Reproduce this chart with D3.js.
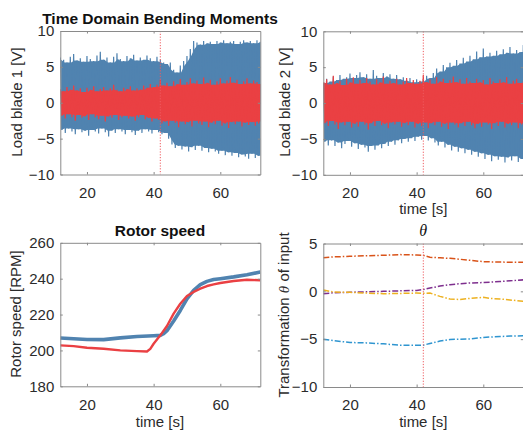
<!DOCTYPE html>
<html>
<head>
<meta charset="utf-8">
<script src="https://cdn.jsdelivr.net/npm/d3@7"></script>
<style>
  body { margin: 0; background: #fff; }
  svg { display: block; font-family: "Liberation Sans", Arial, sans-serif; }
  .tick text { fill: #2b2b2b; font-size: 15px; }
  .tick line, .domain { stroke: #8a8a8a; }
</style>
</head>
<body>
<svg id="chart" width="523" height="430"></svg>
<script>
// sample times for the bending-moment envelopes (1 s steps, lower peaks half a second later)
var loadTime = d3.range(12, 73);

// Load blade 1 : upper / lower peaks of the oscillation
var blade1BlueUp = [6.3,6.0,5.6,6.4,6.8,5.9,6.2,5.7,6.5,6.1,5.8,6.6,7.1,6.0,6.3,5.6,6.4,6.9,6.1,5.8,6.5,6.2,6.7,5.9,6.3,6.0,6.6,6.2,5.8,6.4,6.0,5.6,5.4,5.6,4.6,4.2,5.2,5.8,6.5,7.5,8.6,8.4,8.1,8.6,8.3,8.5,8.2,8.6,8.4,8.7,8.3,8.5,8.6,8.2,8.5,8.7,8.4,8.6,8.3,8.7,8.5];
var blade1BlueLo = [-3.8,-4.2,-3.6,-4.0,-4.4,-3.7,-4.1,-3.9,-4.6,-3.8,-4.0,-4.3,-3.6,-4.1,-4.7,-3.9,-4.2,-3.7,-4.0,-4.4,-3.8,-4.1,-4.5,-3.9,-4.2,-3.7,-4.0,-4.3,-3.8,-4.1,-4.4,-4.2,-5.0,-5.8,-6.3,-6.0,-6.5,-6.1,-6.8,-6.2,-6.6,-6.0,-6.7,-6.3,-6.9,-6.4,-6.8,-7.1,-6.7,-7.3,-6.9,-7.4,-7.0,-7.6,-7.2,-7.5,-7.8,-7.1,-7.7,-7.4,-7.9];
var blade1RedUp = [1.9,1.6,2.2,1.8,2.4,1.7,2.0,1.5,2.1,1.8,2.3,1.6,1.9,2.2,1.7,2.0,2.5,1.8,1.6,2.1,1.9,2.3,1.7,2.0,1.8,2.4,2.1,2.6,2.2,2.5,3.2,2.4,2.8,2.3,3.0,2.6,3.3,2.5,2.9,3.4,2.7,3.1,2.6,3.5,2.8,3.2,2.5,3.0,3.4,2.7,3.1,3.6,2.8,3.2,2.6,3.0,3.4,2.7,3.1,2.9,2.6];
var blade1RedLo = [-1.8,-2.2,-1.6,-2.0,-2.5,-1.7,-2.1,-1.9,-2.4,-1.6,-2.0,-2.3,-1.8,-2.6,-1.9,-2.1,-1.7,-2.4,-2.0,-1.8,-2.2,-1.9,-2.5,-2.0,-1.7,-2.3,-2.1,-2.6,-2.2,-2.4,-2.9,-2.6,-3.2,-2.5,-2.8,-3.4,-2.6,-3.0,-2.7,-3.3,-2.5,-2.9,-3.1,-2.6,-3.4,-2.8,-3.0,-2.5,-3.2,-2.9,-3.5,-2.7,-3.0,-2.6,-3.3,-2.8,-3.1,-2.7,-3.2,-2.9,-2.6];

// Load blade 2
var blade2BlueUp = [2.8,3.4,3.0,3.7,3.2,3.9,3.4,3.6,4.1,3.5,3.9,4.3,3.6,4.0,3.4,4.6,3.8,3.5,4.2,3.7,4.0,3.4,3.9,3.3,3.6,3.1,3.5,2.9,3.3,3.0,3.4,3.8,3.5,4.2,4.8,4.4,5.3,5.0,5.6,5.2,6.0,5.5,6.3,5.8,6.6,6.1,7.2,6.4,7.6,6.5,7.0,6.6,7.3,6.8,7.5,7.0,7.8,6.9,7.4,7.1,8.1];
var blade2BlueLo = [-5.4,-5.9,-5.2,-6.0,-5.5,-6.3,-5.7,-5.3,-6.1,-5.6,-6.4,-5.8,-6.2,-6.8,-6.0,-6.5,-5.9,-6.3,-5.7,-6.0,-5.4,-5.8,-5.2,-5.6,-5.0,-5.4,-4.9,-5.3,-4.7,-5.1,-4.6,-5.2,-4.9,-5.5,-5.9,-5.4,-6.2,-5.8,-6.6,-6.1,-6.8,-6.3,-7.0,-6.5,-7.2,-6.8,-7.5,-7.0,-7.8,-7.2,-8.1,-7.4,-7.9,-7.5,-8.3,-7.6,-8.0,-7.4,-8.2,-7.8,-8.8];
var blade2RedUp = [2.9,3.3,2.6,3.8,2.8,3.1,2.5,3.4,2.9,3.6,2.7,3.2,2.8,3.5,3.0,2.6,3.3,2.9,3.7,2.7,3.1,2.8,3.4,2.6,3.0,3.5,2.8,3.2,2.7,3.1,3.9,2.9,3.3,2.7,3.6,3.0,3.4,2.8,3.2,3.7,2.9,3.3,2.7,3.5,3.0,2.8,3.4,2.9,3.2,2.6,3.5,3.0,2.8,3.3,2.9,3.6,2.7,3.1,3.4,2.8,3.0];
var blade2RedLo = [-2.8,-3.2,-2.5,-3.0,-3.6,-2.7,-3.1,-2.6,-3.4,-2.9,-3.3,-2.6,-3.0,-3.7,-2.8,-3.2,-2.5,-3.1,-2.9,-3.5,-2.7,-3.0,-2.6,-3.3,-2.8,-3.1,-2.6,-3.4,-2.9,-3.2,-2.7,-3.5,-2.8,-3.1,-2.6,-3.3,-2.9,-3.6,-2.7,-3.0,-3.4,-2.8,-3.2,-2.6,-3.1,-3.5,-2.9,-3.3,-2.7,-3.0,-3.6,-2.8,-3.2,-2.6,-3.4,-2.9,-3.1,-2.7,-3.5,-3.0,-2.8];

// Rotor speed [RPM]
var rotorBlueT = [12,20,25,30,35,40,42,43,44,46,48,50,52,54,56,58,60,64,68,72];
var rotorBlue  = [206.9,206.1,206,207,207.8,208.2,208.4,209.3,211,216.4,222.3,228.8,233.5,236.7,238.5,239.5,240,241,242.2,243.7];
var rotorRedT  = [12,16,20,25,30,35,38,39,40,42,44,46,48,50,52,54,56,58,60,64,68,72];
var rotorRed   = [202.8,202.4,201.5,200.9,200,199.6,199.4,200.9,203.7,208.4,213.6,220.5,226,230.3,232.6,234.4,235.9,236.8,237.6,238.7,239.4,239.1];

// Transformation theta
var thetaT      = [12,15,20,25,30,35,40,42,44,47,50,53,56,60,62,65,68,72];
var thetaOrange = [3.52,3.6,3.66,3.72,3.77,3.84,3.8,3.77,3.56,3.5,3.45,3.35,3.24,3.1,3.08,3.06,3.04,3.03];
var thetaPurple = [-0.25,-0.15,-0.1,-0.05,0,0.05,0.1,0.18,0.34,0.55,0.7,0.8,0.87,0.92,0.96,1.02,1.1,1.2];
var thetaYellow = [0.14,-0.07,-0.1,-0.18,-0.25,-0.22,-0.18,-0.2,-0.18,-0.53,-0.8,-0.85,-0.74,-0.63,-0.74,-0.8,-0.9,-1.05];
var thetaBlue   = [-5.0,-5.15,-5.35,-5.39,-5.49,-5.63,-5.63,-5.63,-5.45,-5.2,-5.04,-5.0,-4.98,-4.82,-4.78,-4.72,-4.68,-4.65];

var changeTime = 42;
var xTicks = [20, 40, 60];
var loadTicks = [-10, -5, 0, 5, 10];
var rotorTicks = [180, 200, 220, 240, 260];
var thetaTicks = [-10, -5, 0, 5];

var blue = '#5083b0', red = '#ea4043';
var svg = d3.select('#chart');

function panel(id, left, top, yDomain, yTicks) {
	var w = 200, h = 143.5;
	var x = d3.scaleLinear().domain([12, 72]).range([0, w]);
	var y = d3.scaleLinear().domain(yDomain).range([h, 0]);
	var g = svg.append('g').attr('transform', 'translate(' + left + ',' + top + ')');
	g.append('clipPath').attr('id', id).append('rect').attr('width', w).attr('height', h);
	var plot = g.append('g').attr('clip-path', 'url(#' + id + ')');

	g.append('g').attr('transform', 'translate(0,' + h + ')')
		.call(d3.axisBottom(x).tickValues(xTicks).tickSizeInner(-2.5).tickSizeOuter(0).tickPadding(12.8));
	g.append('g')
		.call(d3.axisLeft(y).tickValues(yTicks).tickSizeInner(-2.5).tickSizeOuter(0).tickPadding(6));
	g.append('g')
		.call(d3.axisTop(x).tickValues(xTicks).tickSizeInner(-2.5).tickSizeOuter(0).tickFormat(''));
	g.append('g').attr('transform', 'translate(' + w + ',0)')
		.call(d3.axisRight(y).tickValues(yTicks).tickSizeInner(-2.5).tickSizeOuter(0).tickFormat(''));
	g.selectAll('.tick text').attr('font-family', null).attr('font-size', null);
	return {g: g, plot: plot, x: x, y: y, w: w, h: h};
}

// oscillating signal: solid core band under the lowest neighbouring peaks,
// and a zig-zag through every peak for the spiky fringe
function drawLoad(p, up, lo, color) {
	var n = up.length;
	var coreUp = up.map(function(d, i) { return Math.min(d, up[Math.max(i - 1, 0)], up[Math.min(i + 1, n - 1)]); });
	var coreLo = lo.map(function(d, i) { return Math.max(d, lo[Math.max(i - 1, 0)], lo[Math.min(i + 1, n - 1)]); });
	var area = d3.area()
		.x(function(d, i) { return p.x(loadTime[i] + 0.25); })
		.y1(function(d) { return p.y(d); })
		.y0(function(d, i) { return p.y(coreLo[i]); });
	p.plot.append('path').datum(coreUp).attr('d', area).attr('fill', color);
	var pts = [];
	loadTime.forEach(function(t, i) {
		pts.push([t, up[i]]);
		pts.push([t + 0.5, lo[i]]);
	});
	var line = d3.line().x(function(d) { return p.x(d[0]); }).y(function(d) { return p.y(d[1]); });
	p.plot.append('path').datum(pts).attr('d', line)
		.attr('fill', 'none').attr('stroke', color).attr('stroke-width', 1.2);
}

function marker(p) {
	p.plot.append('line')
		.attr('x1', p.x(changeTime)).attr('x2', p.x(changeTime))
		.attr('y1', 0).attr('y2', p.h)
		.attr('stroke', '#ee5a5f').attr('stroke-width', 1).attr('stroke-dasharray', '1.2,1.6');
}

function yLabel(x, y, text) {
	return svg.append('text').attr('transform', 'translate(' + x + ',' + y + ') rotate(-90)')
		.attr('text-anchor', 'middle').attr('font-size', 15).attr('fill', '#2b2b2b').text(text);
}
function label(x, y, text) {
	return svg.append('text').attr('x', x).attr('y', y)
		.attr('text-anchor', 'middle').attr('font-size', 15).attr('fill', '#2b2b2b').text(text);
}

// top left
var p1 = panel('c1', 60.3, 31, [-10, 10], loadTicks);
drawLoad(p1, blade1BlueUp, blade1BlueLo, blue);
drawLoad(p1, blade1RedUp, blade1RedLo, red);
marker(p1);
label(160, 23.5, 'Time Domain Bending Moments').attr('font-weight', 'bold').attr('font-size', 15.5).attr('fill', '#111');
yLabel(21.5, 102, 'Load blade 1 [V]');

// top right
var p2 = panel('c2', 323.3, 31.3, [-10, 10], loadTicks);
drawLoad(p2, blade2BlueUp, blade2BlueLo, blue);
drawLoad(p2, blade2RedUp, blade2RedLo, red);
marker(p2);
yLabel(289.5, 102, 'Load blade 2 [V]');
label(423.3, 214, 'time [s]');

// bottom left
var p3 = panel('c3', 60.3, 242.8, [180, 260], rotorTicks);
var rLine = function(tt) {
	return d3.line().x(function(d, i) { return p3.x(tt[i]); }).y(function(d) { return p3.y(d); });
};
p3.plot.append('path').datum(rotorBlue).attr('d', rLine(rotorBlueT))
	.attr('fill', 'none').attr('stroke', blue).attr('stroke-width', 3.6).attr('stroke-linejoin', 'round');
p3.plot.append('path').datum(rotorRed).attr('d', rLine(rotorRedT))
	.attr('fill', 'none').attr('stroke', red).attr('stroke-width', 2.4).attr('stroke-linejoin', 'round');
label(160, 236, 'Rotor speed').attr('font-weight', 'bold').attr('font-size', 15.5).attr('fill', '#111');
yLabel(21, 314, 'Rotor speed [RPM]');
label(160, 427, 'time [s]');

// bottom right
var p4 = panel('c4', 323.3, 243.5, [-10, 5], thetaTicks);
var tLine = d3.line().x(function(d, i) { return p4.x(thetaT[i]); }).y(function(d) { return p4.y(d); });
[[thetaOrange, '#D95319'], [thetaPurple, '#7E2F8E'], [thetaYellow, '#EDB120'], [thetaBlue, '#2f95d0']]
	.forEach(function(s) {
		p4.plot.append('path').datum(s[0]).attr('d', tLine)
			.attr('fill', 'none').attr('stroke', s[1]).attr('stroke-width', 1.5)
			.attr('stroke-dasharray', '6,2,1.5,2');
	});
marker(p4);
label(423.3, 235.5, 'θ').attr('font-family', '"Liberation Serif", "Times New Roman", serif')
	.attr('font-style', 'italic').attr('font-size', 16).attr('fill', '#111');
var yl = yLabel(289, 315, '');
yl.append('tspan').text('Transformation ');
yl.append('tspan').attr('font-family', '"Liberation Serif", serif').attr('font-style', 'italic').text('θ');
yl.append('tspan').text(' of input');
label(423.3, 427, 'time [s]');
</script>
</body>
</html>
